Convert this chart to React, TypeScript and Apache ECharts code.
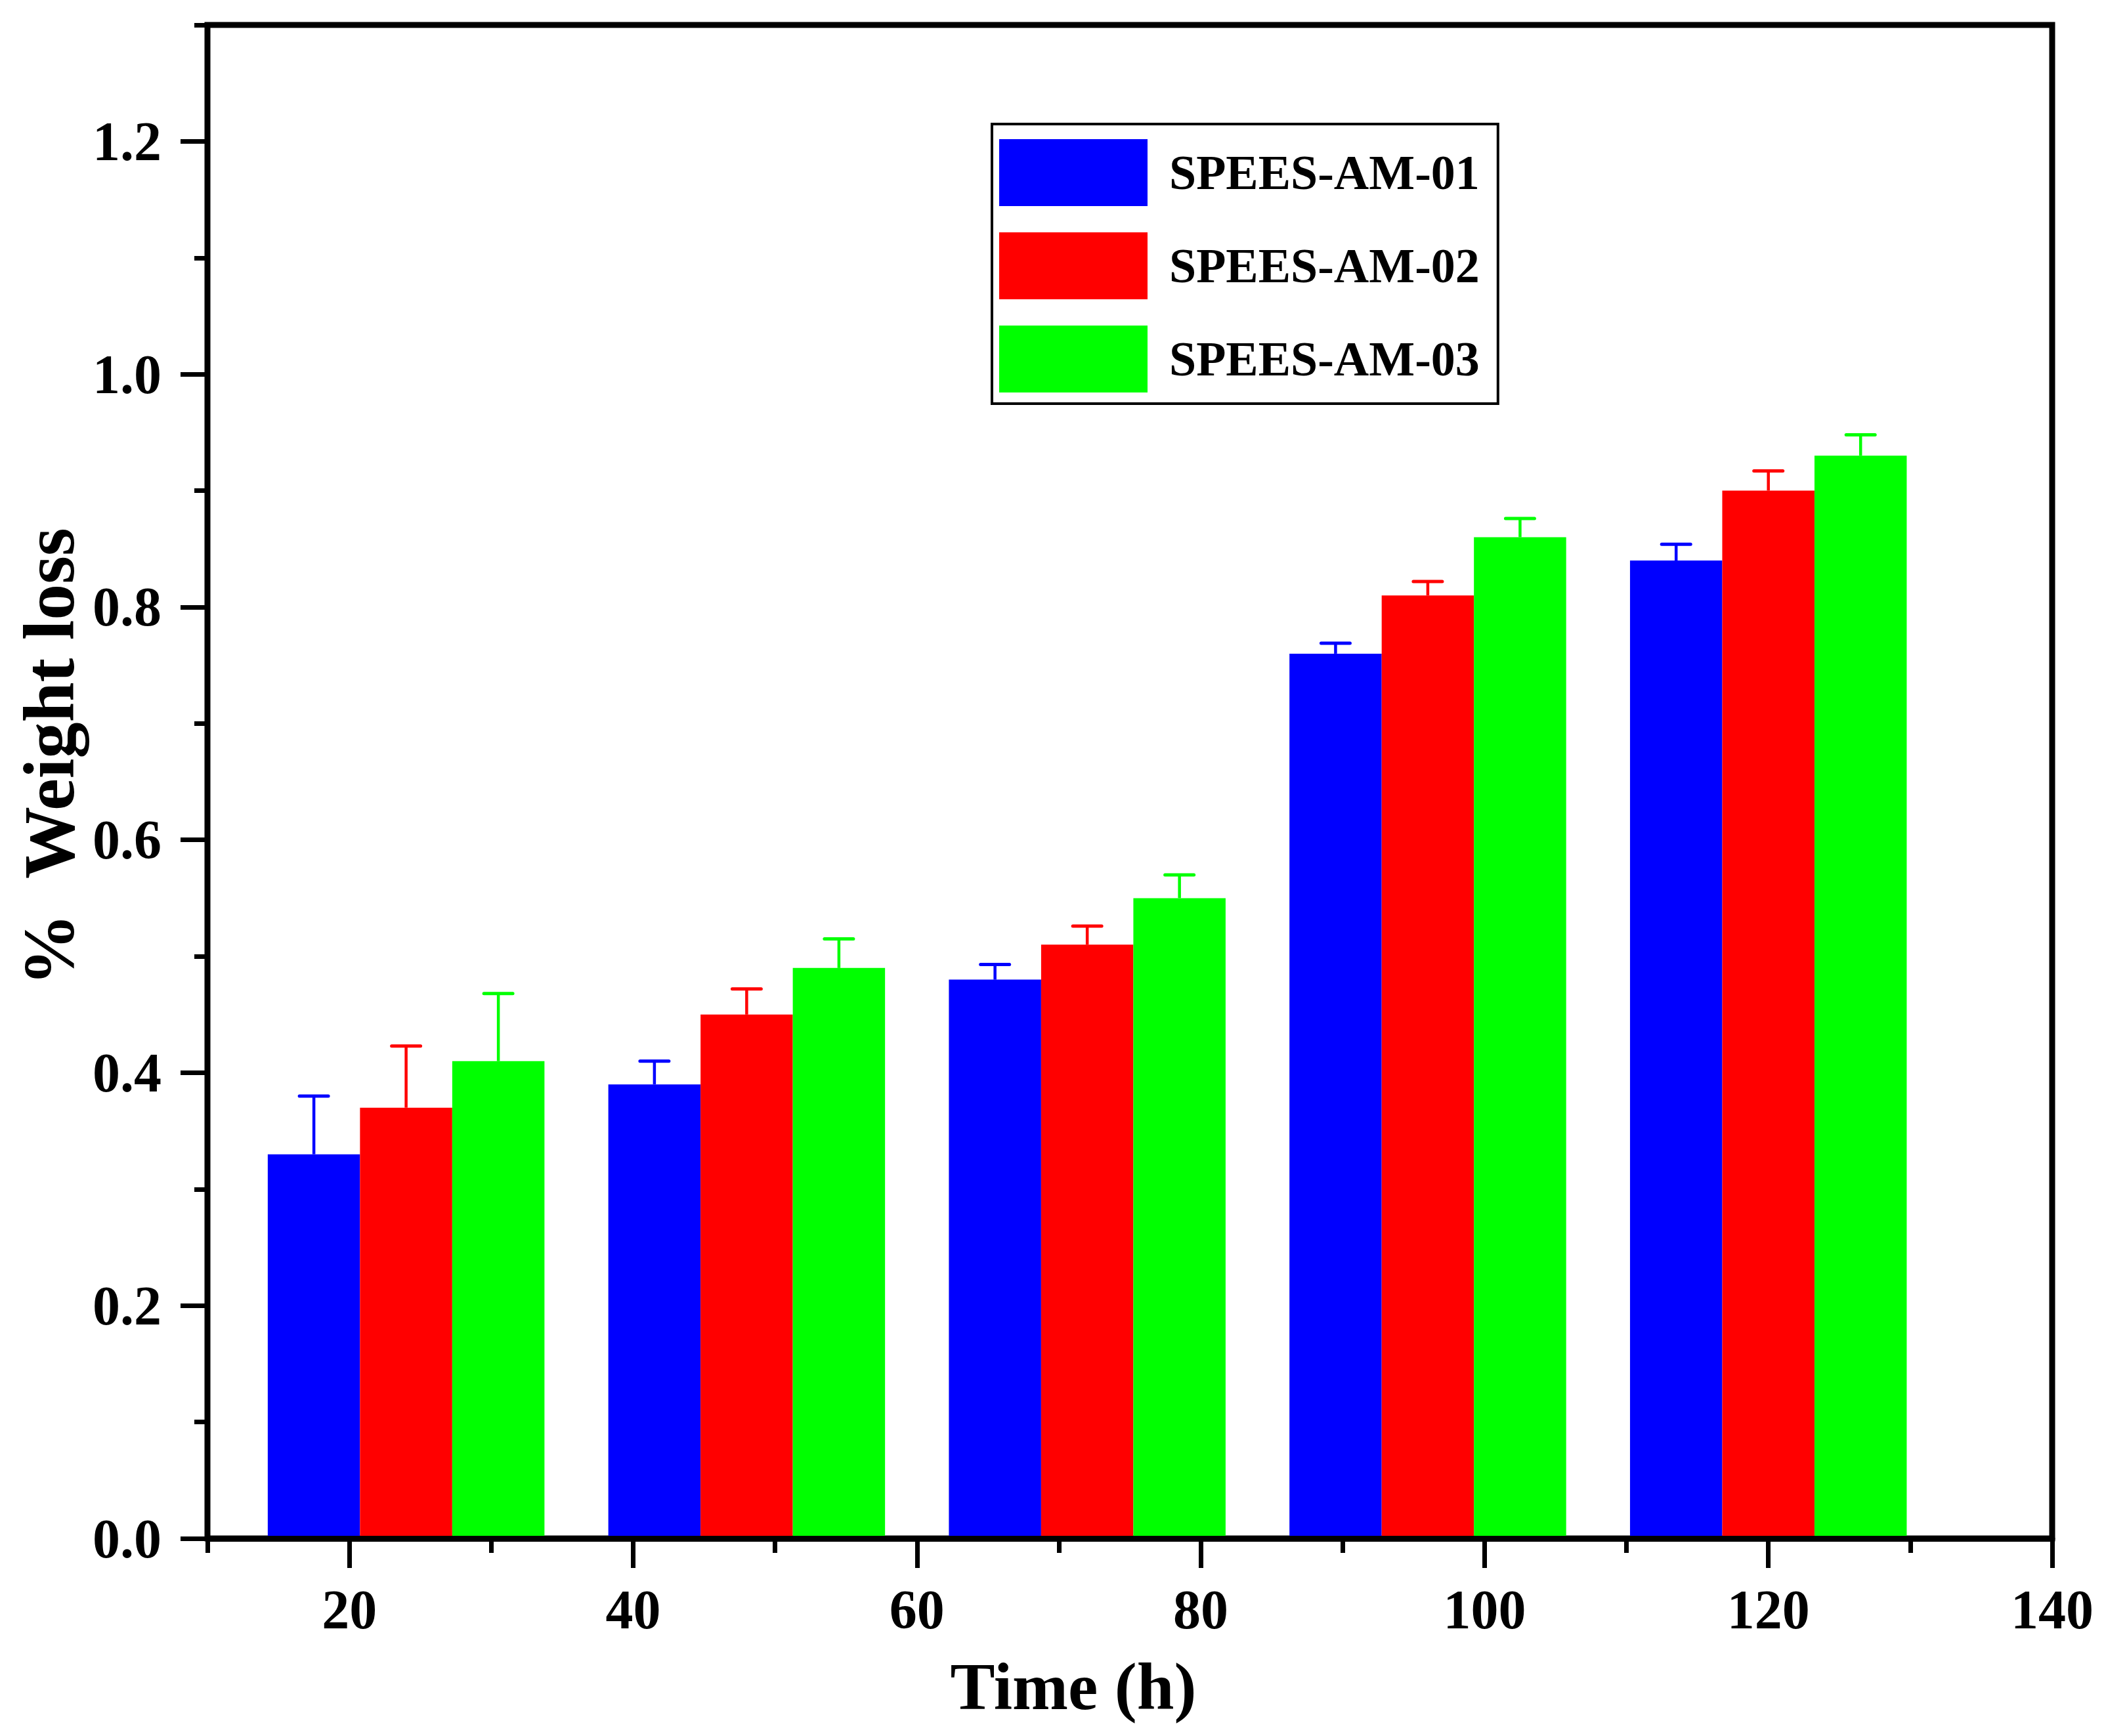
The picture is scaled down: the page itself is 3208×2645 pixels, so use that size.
import { useRef, useEffect } from 'react';
import * as echarts from 'echarts';

// sampling times (h) and % weight loss per membrane
const times = [24, 48, 72, 96, 120];
const seriesNames = ['SPEES-AM-01', 'SPEES-AM-02', 'SPEES-AM-03'];
const am01 = [0.33, 0.39, 0.48, 0.76, 0.84];
const am01Err = [0.05, 0.02, 0.013, 0.009, 0.014];
const am02 = [0.37, 0.45, 0.51, 0.81, 0.9];
const am02Err = [0.053, 0.022, 0.016, 0.012, 0.017];
const am03 = [0.41, 0.49, 0.55, 0.86, 0.93];
const am03Err = [0.058, 0.025, 0.02, 0.016, 0.018];

const xTicks = [20, 40, 60, 80, 100, 120, 140];
const xMinorTicks = [10, 30, 50, 70, 90, 110, 130];
const yTicks = [0, 0.2, 0.4, 0.6, 0.8, 1.0, 1.2];
const yMinorTicks = [0.1, 0.3, 0.5, 0.7, 0.9, 1.1, 1.3];

const colors = ['#0000ff', '#ff0000', '#00ff00'];
const BAR_W = 6.5; // bar width in hours
const offsets = [-BAR_W, 0, BAR_W];
const FONT = 'Liberation Serif';

export default function App() {
  const chartRef = useRef<HTMLDivElement>(null);
  useEffect(() => {
    document.body.style.margin = '0';
    let chart: echarts.ECharts | undefined;
    if (chartRef.current) {
      chart = echarts.init(chartRef.current, null, { renderer: 'svg' });
      const values = [am01, am02, am03];
      const errs = [am01Err, am02Err, am03Err];

      const series = seriesNames.map((name, si) => ({
        name,
        type: 'custom',
        xAxisIndex: 0,
        yAxisIndex: 0,
        itemStyle: { color: colors[si] },
        encode: { x: 0, y: 1 },
        data: times.map((t, i) => [t + offsets[si], values[si][i], errs[si][i]]),
        renderItem: (_params: any, api: any) => {
          const x = api.value(0);
          const y = api.value(1);
          const e = api.value(2);
          const p0 = api.coord([x - BAR_W / 2, y]);
          const p1 = api.coord([x + BAR_W / 2, 0]);
          const pe = api.coord([x, y + e]);
          const cx = (p0[0] + p1[0]) / 2;
          return {
            type: 'group',
            children: [
              {
                type: 'rect',
                shape: { x: p0[0], y: p0[1], width: p1[0] - p0[0], height: p1[1] - p0[1] },
                style: { fill: colors[si] },
              },
              {
                type: 'line',
                shape: { x1: cx, y1: p0[1], x2: cx, y2: pe[1] },
                style: { stroke: colors[si], lineWidth: 4.5 },
              },
              {
                type: 'line',
                shape: { x1: cx - 22, y1: pe[1], x2: cx + 22, y2: pe[1] },
                style: { stroke: colors[si], lineWidth: 5, lineCap: 'round' },
              },
            ],
          };
        },
      }));

      const labelStyle = {
        fontFamily: FONT,
        fontWeight: 'bold' as const,
        fontSize: 84,
        color: '#000',
      };

      chart.setOption({
        animation: false,
        backgroundColor: '#fff',
        grid: {
          left: 316,
          right: 82,
          top: 38,
          bottom: 301,
          show: true,
          borderColor: '#000',
          borderWidth: 9,
          backgroundColor: 'transparent',
        },
        legend: {
          orient: 'vertical',
          left: 1511,
          top: 189,
          data: seriesNames,
          icon: 'rect',
          itemWidth: 226,
          itemHeight: 102,
          itemGap: 40,
          padding: [23, 28, 17, 11],
          borderColor: '#000',
          borderWidth: 4,
          textStyle: {
            fontFamily: FONT,
            fontWeight: 'bold',
            fontSize: 74,
            color: '#000',
            padding: [0, 0, 0, 28],
          },
        },
        xAxis: [
          {
            type: 'value',
            min: 10,
            max: 140,
            z: 10,
            name: 'Time (h)',
            nameLocation: 'middle',
            nameGap: 174,
            nameTextStyle: {
              fontFamily: FONT,
              fontWeight: 'bold',
              fontSize: 102,
              color: '#000',
              padding: [0, 172, 0, 0],
            },
            axisLine: { show: true, lineStyle: { color: '#000', width: 9 } },
            axisTick: {
              show: true,
              customValues: xTicks,
              length: 45,
              lineStyle: { color: '#000', width: 7 },
            },
            axisLabel: { customValues: xTicks, margin: 66, ...labelStyle },
            splitLine: { show: false },
          },
          {
            type: 'value',
            position: 'bottom',
            min: 10,
            max: 140,
            z: 10,
            axisLine: { show: false },
            axisTick: {
              show: true,
              customValues: xMinorTicks,
              length: 22,
              lineStyle: { color: '#000', width: 7 },
            },
            axisLabel: { show: false },
            splitLine: { show: false },
          },
        ],
        yAxis: [
          {
            type: 'value',
            min: 0,
            max: 1.3,
            z: 10,
            name: '%  Weight loss',
            nameLocation: 'middle',
            nameGap: 186,
            nameTextStyle: {
              fontFamily: FONT,
              fontWeight: 'bold',
              fontSize: 110,
              color: '#000',
              padding: [0, 0, 0, 76],
            },
            axisLine: { show: true, lineStyle: { color: '#000', width: 8 } },
            axisTick: {
              show: true,
              customValues: yTicks,
              length: 41,
              lineStyle: { color: '#000', width: 7 },
            },
            axisLabel: {
              customValues: yTicks,
              margin: 70,
              formatter: (v: number) => v.toFixed(1),
              ...labelStyle,
            },
            splitLine: { show: false },
          },
          {
            type: 'value',
            position: 'left',
            min: 0,
            max: 1.3,
            z: 10,
            axisLine: { show: false },
            axisTick: {
              show: true,
              customValues: yMinorTicks,
              length: 20,
              lineStyle: { color: '#000', width: 7 },
            },
            axisLabel: { show: false },
            splitLine: { show: false },
          },
        ],
        series,
      });
    }
    return () => {
      chart?.dispose();
    };
  }, []);

  return <div ref={chartRef} style={{ width: 3208, height: 2645 }} />;
}
